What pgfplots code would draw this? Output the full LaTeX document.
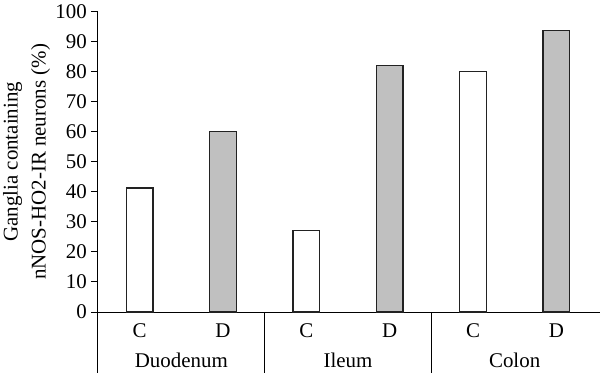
\documentclass[border=0pt]{standalone}
\usepackage{fontspec}
\setmainfont{Liberation Serif}
\usepackage{pgfplots}
\pgfplotsset{compat=1.18}
\usetikzlibrary{calc}
\definecolor{barfill}{HTML}{C0C0C0}
\definecolor{edge}{HTML}{222222}
\tikzset{lab/.style={anchor=base, inner sep=0pt, font=\fontsize{21}{25}\selectfont}}
\begin{document}
\begin{tikzpicture}
\begin{axis}[
  scale only axis,
  x=83.33bp, y=3.003bp,
  xmin=0, xmax=6.02, ymin=0, ymax=100,
  axis x line=bottom, axis y line=left,
  axis line style={-, line width=1bp, color=black},
  ytick={0,10,...,100},
  tick align=outside,
  major tick length=7bp,
  tick style={line width=1bp, color=black},
  y tick label style={font=\fontsize{21}{25}\selectfont, inner sep=0pt, xshift=-4bp},
  /pgf/number format/assume math mode=true,
  xtick={0.5,1.5,2.5,3.5,4.5,5.5},
  xticklabels={},
  x tick style={draw=none},
  ylabel={Ganglia containing\\nNOS-HO2-IR neurons (\%)},
  ylabel style={at={(axis description cs:0,0.5)}, anchor=north, yshift=95bp, inner sep=0pt, align=center, font=\fontsize{21}{28}\selectfont},
  ybar, bar width=26.6bp, bar shift=0pt,
  clip=false,
]
\addplot[fill=white, draw=edge, line width=1.2bp] coordinates {(0.5,41.3) (2.5,27.1) (4.5,80.1)};
\addplot[fill=barfill, draw=edge, line width=1.2bp] coordinates {(1.5,60.1) (3.5,82.2) (5.5,93.8)};
\coordinate (O) at (axis cs:0,0);
\node[lab] at ($(axis cs:0.5,0)+(0,-25bp)$) {C};
\node[lab] at ($(axis cs:1.5,0)+(0,-25bp)$) {D};
\node[lab] at ($(axis cs:2.5,0)+(0,-25bp)$) {C};
\node[lab] at ($(axis cs:3.5,0)+(0,-25bp)$) {D};
\node[lab] at ($(axis cs:4.5,0)+(0,-25bp)$) {C};
\node[lab] at ($(axis cs:5.5,0)+(0,-25bp)$) {D};
\node[lab] at ($(axis cs:1,0)+(0,-55bp)$) {Duodenum};
\node[lab] at ($(axis cs:3,0)+(0,-55bp)$) {Ileum};
\node[lab] at ($(axis cs:5,0)+(0,-55bp)$) {Colon};
\draw[line width=1bp] (axis cs:0,0) -- ++(0,-62bp);
\draw[line width=1bp] (axis cs:2,0) -- ++(0,-62bp);
\draw[line width=1bp] (axis cs:4,0) -- ++(0,-62bp);
\end{axis}
\pgfresetboundingbox
\path[use as bounding box] ($(O)+(-98bp,-61bp)$) rectangle ($(O)+(502bp,312bp)$);
\end{tikzpicture}
\end{document}
